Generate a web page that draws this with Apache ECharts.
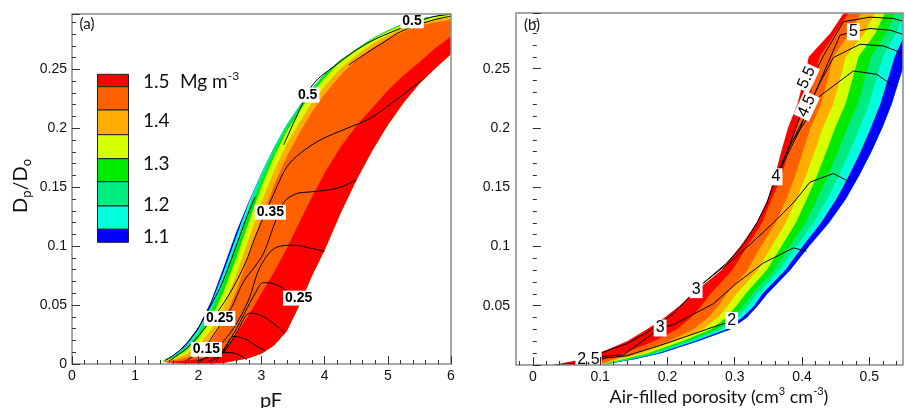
<!DOCTYPE html>
<html>
<head>
<meta charset="utf-8">
<script src="https://cdn.jsdelivr.net/npm/echarts@6/dist/echarts.min.js"></script>
<style>
  html, body { margin: 0; padding: 0; background: #fff; }
  #chart { width: 905px; height: 408px; }
</style>
</head>
<body>
<div id="chart"></div>
<script>
// ---------- Panel (a): Dp/Do against pF, bands of bulk density ----------
const pfGrid = [1.45, 1.6, 1.8, 2.0, 2.2, 2.4, 2.6, 2.8, 3.0, 3.2, 3.4, 3.6, 3.8, 4.0, 4.25, 4.5, 4.75, 5.0, 5.25, 5.5, 5.75, 6.0];

// Band edges (Dp/Do at each pF), from the 1.1 edge (outer, upper-left) to the 1.5 edge (lower-right)
const aEdge0 = [.003, .007, .016, .031, .053, .082, .112, .138, .162, .184, .203, .219, .234, .246, .258, .267, .276, .283, .289, .293, .295, .297];
const aEdge1 = [.0029, .0067, .0151, .0293, .0504, .0783, .108, .1372, .162, .184, .203, .219, .234, .246, .258, .267, .276, .283, .289, .293, .295, .297];
const aEdge2 = [.0028, .0063, .014, .0272, .0471, .0737, .103, .133, .1612, .184, .203, .219, .234, .246, .258, .267, .276, .283, .289, .293, .295, .297];
const aEdge3 = [.0027, .0058, .0127, .0247, .0431, .0682, .097, .127, .1552, .1798, .2003, .2167, .232, .246, .258, .267, .276, .283, .289, .293, .295, .297];
const aEdge4 = [.0026, .0052, .011, .0216, .0382, .0613, .0895, .1205, .1506, .176, .1976, .2144, .23, .2426, .257, .2663, .2754, .2824, .2884, .2925, .2946, .2966];
const aEdge5 = [.0023, .0041, .008, .0157, .0289, .0484, .0755, .1067, .1377, .1642, .1868, .2052, .222, .2358, .2509, .262, .2716, .2792, .2852, .2897, .2922, .2942];
const aEdge6 = [.002, .003, .005, .010, .020, .036, .062, .092, .124, .152, .176, .196, .214, .229, .245, .258, .268, .276, .282, .287, .290, .292];
const aEdge7 = [.002, .002, .003, .004, .007, .013, .025, .042, .060, .078, .098, .120, .142, .162, .184, .202, .217, .232, .245, .256, .268, .278];
const aEdge8 = [.002, .001, 0, 0, 0, .001, .003, .005, .009, .016, .028, .050, .075, .097, .128, .156, .181, .203, .222, .238, .251, .263];

// Contour lines of panel (a), [pF, Dp/Do]
const aLineEdge   = [[1.478, .0031], [1.715, .0121], [1.979, .0291], [2.19, .0489], [2.375, .0686], [2.559, .0941], [2.77, .1252], [2.902, .1421]];
const aLineOuter  = [[3.351, .1859], [3.641, .2198], [3.826, .2381], [4.142, .2523], [4.67, .272], [5.198, .2847], [5.673, .2941], [6.0, .2969]];
const aLineInner  = [[4.38, .2537], [4.67, .2641], [4.987, .2749], [5.198, .2819], [5.673, .2912], [6.0, .2952]];
const aLine035    = [[1.53, .0023], [1.821, .0136], [2.084, .0291], [2.348, .0475], [2.559, .0658], [2.744, .0856], [2.902, .1082], [3.061, .128], [3.245, .1506], [3.404, .1675], [3.615, .1788], [3.931, .1901], [4.354, .2], [4.723, .2085], [5.092, .2226], [5.541, .241]];
const aLine025    = [[1.821, .0031], [2.084, .0136], [2.296, .0291], [2.507, .046], [2.718, .0701], [2.9, .083], [3.034, .0941], [3.2, .118], [3.35, .137], [3.55, .1445], [3.77, .146], [4.1, .148], [4.3, .151], [4.5, .1562]];
const aArch5      = [[2.032, .002], [2.296, .0136], [2.559, .0305], [2.797, .0545], [2.982, .0828], [3.245, .0992], [3.509, .1008], [3.773, .0983], [4.0, .0955]];
const aArch4      = [[2.137, .0014], [2.348, .0093], [2.55, .025], [2.75, .045], [2.9, .06], [3.03, .069], [3.2, .068], [3.4, .062], [3.6, .054]];
const aArch3      = [[2.19, .0011], [2.4, .01], [2.6, .026], [2.823, .0432], [3.0, .041], [3.2, .034], [3.37, .026]];
const aArch2      = [[2.27, .0014], [2.4, .011], [2.56, .0234], [2.75, .021], [2.9, .016], [3.06, .011]];
const aArch1      = [[1.979, .0023], [2.19, .0065], [2.348, .0099], [2.559, .0093], [2.77, .0037]];

// Contour labels of panel (a): [pF, Dp/Do, text]
const aLabels = [[5.383, .2912, '0.5'], [3.731, .2282, '0.5'], [3.14, .1288, '0.35'], [3.588, .0559, '0.25'], [2.338, .0387, '0.25'], [2.127, .0124, '0.15']];

// ---------- Panel (b): Dp/Do against air-filled porosity ----------
const yGridB = [0, .005, .01, .02, .03, .04, .05, .06, .08, .10, .12, .14, .16, .18, .20, .22, .24, .26, .28, .297];

// Band edges (air-filled porosity at each Dp/Do), from the 1.5 edge (left) to the 1.1 edge (right)
const bEdge0 = [.030, .075, .098, .140, .169, .196, .218, .237, .280, .308, .333, .349, .360, .369, .379, .393, .402, .410, .442, .462];
const bEdge1 = [.096, .1058, .1348, .1799, .2136, .235, .2505, .2636, .2963, .3182, .3405, .3548, .370, .3797, .3902, .4084, .4176, .426, .4494, .4688];
const bEdge2 = [.097, .1212, .1532, .2009, .2384, .2607, .276, .2881, .3188, .3386, .3608, .3768, .390, .4012, .4126, .428, .4375, .4463, .4705, .488];
const bEdge3 = [.098, .1289, .1624, .2114, .2521, .2753, .2899, .3025, .3341, .3549, .3758, .3919, .4063, .4186, .4308, .4462, .456, .4651, .4928, .5083];
const bEdge4 = [.098, .1358, .1707, .2219, .2645, .2875, .3027, .3158, .3473, .3692, .3908, .407, .4225, .436, .449, .4644, .4744, .484, .509, .523];
const bEdge5 = [.099, .1412, .1771, .2293, .2732, .2973, .3131, .3258, .3575, .3814, .4047, .4221, .4388, .4534, .4672, .4826, .4929, .5028, .5251, .5377];
const bEdge6 = [.099, .1451, .1817, .2345, .2806, .3046, .3201, .3336, .3667, .3916, .4175, .4372, .455, .4708, .4854, .4994, .5099, .5202, .54, .5513];
const bEdge7 = [.100, .1482, .1854, .2398, .2868, .3113, .329, .3408, .3749, .4008, .4282, .4511, .47, .4869, .5022, .5162, .527, .5376, .5536, .5637];
const bEdge8 = [.100, .152, .190, .245, .293, .318, .334, .348, .382, .410, .440, .465, .485, .503, .519, .533, .544, .555, .566, .575];

// pF contour lines of panel (b), [air-filled porosity, Dp/Do]
const bLine2   = [[.1, .0055], [.1396, .0078], [.1842, .0157], [.2287, .0242], [.2683, .0321], [.2906, .036]];
const bLine25  = [[.0307, 0], [.0554, .001], [.0728, .0024], [.1, .006]];
const bLine3a  = [[.1, .0072], [.1347, .0086], [.1693, .0227], [.1891, .0312], [.2089, .034], [.2683, .0517], [.303, .0692], [.3426, .0861], [.3871, .0988], [.4069, .096]];
const bLine3b  = [[.1, .01], [.1396, .0179], [.1693, .0275], [.2089, .0433], [.2337, .058], [.2535, .0692], [.2881, .0848], [.3228, .1017], [.3574, .12], [.3871, .1369], [.4119, .1543], [.4465, .1616], [.4713, .1543]];
const bLine4   = [[.2535, .0692], [.2881, .0861], [.3129, .1016], [.3327, .1199], [.3475, .1362], [.3599, .1565], [.3748, .1763], [.3871, .1904], [.4069, .2073], [.4267, .227], [.4762, .2481], [.5109, .2453], [.5356, .2355]];
const bLine45  = [[.3599, .1565], [.3822, .182], [.397, .1988], [.4094, .2185], [.4267, .2382], [.4465, .2594], [.4861, .2706], [.5208, .2692], [.5495, .263]];
const bLine5   = [[.3871, .1904], [.4069, .2129], [.4218, .2326], [.4366, .2524], [.4564, .2783], [.4762, .2811], [.501, .2839], [.5307, .2825], [.5495, .2791]];
const bLine55  = [[.3599, .1565], [.3772, .1791], [.3921, .2016], [.402, .2185], [.4119, .2382], [.4317, .2608], [.4614, .2896], [.501, .2935], [.5356, .2924], [.5495, .2901]];

// Contour labels of panel (b): [air-filled porosity, Dp/Do, text]
const bLabels = [[.4762, .2811, '5'], [.4069, .2425, '5.5'], [.4069, .2185, '4.5'], [.3614, .1588, '4'], [.2426, .0636, '3'], [.1891, .0312, '3'], [.2955, .0376, '2'], [.0827, .0044, '2.5']];
const bLabelTilt = { '5.5': 65, '4.5': 65 };

// Axis ticks
const bTicksX = [0, 0.1, 0.2, 0.3, 0.4, 0.5];
const bMinorTicksX = [-0.02, 0.02, 0.04, 0.06, 0.08, 0.12, 0.14, 0.16, 0.18, 0.22, 0.24, 0.26, 0.28, 0.32, 0.34, 0.36, 0.38, 0.42, 0.44, 0.46, 0.48, 0.52, 0.54];

// Bulk density legend (Mg m-3), colours listed from 1.5 down to 1.1
const densityColors = ['#ff0000', '#ff6000', '#ffae00', '#d6ff00', '#00ea00', '#00ec80', '#00ffdc', '#0000ff'];
const densityTicks = ['1.5', '1.4', '1.3', '1.2', '1.1'];

const edgesA = [aEdge0, aEdge1, aEdge2, aEdge3, aEdge4, aEdge5, aEdge6, aEdge7, aEdge8];
const edgesB = [bEdge0, bEdge1, bEdge2, bEdge3, bEdge4, bEdge5, bEdge6, bEdge7, bEdge8];
const bandColorsA = densityColors.slice().reverse();   // outer edge is the light soil
const bandColorsB = densityColors.slice();             // left edge is the dense soil

const chart = echarts.init(document.getElementById('chart'), null, { renderer: 'canvas' });

// Each band is painted from its own edge to the far edge of the whole area;
// the next band is painted over it, so neighbouring bands meet without seams.
function bandRenderer(grid, edges, colors, edgeIsX) {
  const far = edges[edges.length - 1];
  return function (params, api) {
    const i = params.dataIndex;
    const hi = edges[i];
    const pt = (gv, v) => edgeIsX ? api.coord([v, gv]) : api.coord([gv, v]);
    const points = [];
    for (let k = 0; k < grid.length; k++) points.push(pt(grid[k], hi[k]));
    for (let k = grid.length - 1; k >= 0; k--) points.push(pt(grid[k], far[k]));
    return {
      type: 'polygon',
      shape: { points: points },
      style: { fill: colors[i] }
    };
  };
}

function contour(data, xi, yi, smooth) {
  return {
    type: 'line', xAxisIndex: xi, yAxisIndex: yi, data: data,
    symbol: 'none', smooth: smooth, silent: true, z: 4,
    lineStyle: { color: '#000', width: 1 }
  };
}

function labelSeries(list, xi, yi, bold, size, tilt) {
  return {
    type: 'scatter', xAxisIndex: xi, yAxisIndex: yi, z: 6, silent: true,
    symbolSize: 1, itemStyle: { color: 'rgba(0,0,0,0)', opacity: 1 },
    data: list.map(([x, y, t]) => ({
      value: [x, y], name: t,
      label: { rotate: (tilt && tilt[t]) || 0 }
    })),
    label: {
      show: true, position: 'inside', formatter: '{b}',
      color: '#000', backgroundColor: '#fff', padding: [1, 2, 0, 2],
      fontFamily: 'Liberation Sans, Arial, sans-serif',
      fontWeight: bold ? 'bold' : 'normal', fontSize: size
    }
  };
}

const tickFont = { fontFamily: 'Liberation Sans, Arial, sans-serif', fontSize: 14, color: '#111' };
const tickLine = { color: '#333', width: 1 };

function valueAxis(extra) {
  return Object.assign({
    type: 'value', z: 11,
    axisLine: { show: false },
    splitLine: { show: false },
    axisTick: { inside: true, length: 8, lineStyle: tickLine },
    minorTick: { show: true, splitNumber: 5, length: 4, lineStyle: tickLine },
    axisLabel: Object.assign({ margin: 5 }, tickFont)
  }, extra);
}

const titleFont = 'Lato, "Open Sans", sans-serif';

const option = {
  animation: false,
  backgroundColor: '#fff',
  grid: [
    { left: 72, top: 14, width: 379, height: 350, show: true, z: 10, backgroundColor: 'transparent', borderColor: '#8a8a8a', borderWidth: 1.5 },
    { left: 516, top: 13, width: 387, height: 352, show: true, z: 10, backgroundColor: 'transparent', borderColor: '#8a8a8a', borderWidth: 1.5 }
  ],
  xAxis: [
    valueAxis({ gridIndex: 0, position: 'bottom', min: 0, max: 6, interval: 1 }),
    valueAxis({
      gridIndex: 1, position: 'bottom', min: -0.025, max: 0.55,
      minorTick: { show: false },
      axisTick: { inside: true, length: 8, lineStyle: tickLine, customValues: bTicksX },
      axisLabel: Object.assign({ margin: 5, customValues: bTicksX }, tickFont)
    }),
    valueAxis({
      gridIndex: 1, position: 'bottom', min: -0.025, max: 0.55,
      minorTick: { show: false },
      axisTick: { inside: true, length: 4, lineStyle: tickLine, customValues: bMinorTicksX },
      axisLabel: { show: false }
    })
  ],
  yAxis: [
    valueAxis({ gridIndex: 0, position: 'left', min: 0, max: 0.297, interval: 0.05,
      axisLabel: Object.assign({ margin: 5, showMaxLabel: false }, tickFont) }),
    valueAxis({ gridIndex: 1, position: 'left', min: 0, max: 0.297, interval: 0.05,
      axisLabel: Object.assign({ margin: 6, showMinLabel: false, showMaxLabel: false }, tickFont) })
  ],
  graphic: [],
  series: []
};

// Panel (a)
option.series.push({
  type: 'custom', xAxisIndex: 0, yAxisIndex: 0, clip: true, silent: true, z: 2,
  data: bandColorsA.map((c, i) => i),
  renderItem: bandRenderer(pfGrid, edgesA, bandColorsA, false)
});
[aLineEdge, aLineOuter, aLineInner, aLine035, aLine025, aArch5, aArch4, aArch3, aArch2, aArch1]
  .forEach(d => option.series.push(contour(d, 0, 0, 0.35)));
option.series.push(labelSeries(aLabels, 0, 0, true, 14, null));

// Panel (b)
option.series.push({
  type: 'custom', xAxisIndex: 1, yAxisIndex: 1, clip: true, silent: true, z: 2,
  data: bandColorsB.map((c, i) => i),
  renderItem: bandRenderer(yGridB, edgesB, bandColorsB, true)
});
[bLine2, bLine25, bLine3a, bLine3b, bLine4, bLine45, bLine5, bLine55]
  .forEach(d => option.series.push(contour(d, 1, 1, false)));
option.series.push(labelSeries(bLabels, 1, 1, false, 16, bLabelTilt));

// Titles, panel tags and the density legend
const g = option.graphic;
g.push({ type: 'text', x: 87, y: 24, z: 20, style: { text: '(a)', font: '15px ' + titleFont, fill: '#111', align: 'center', verticalAlign: 'middle' } });
g.push({ type: 'text', x: 532, y: 25, z: 20, style: { text: '(b)', font: '15px ' + titleFont, fill: '#111', align: 'center', verticalAlign: 'middle' } });
g.push({ type: 'text', x: 271, y: 401, style: { text: 'pF', font: '20px ' + titleFont, fill: '#111', align: 'center', verticalAlign: 'middle' } });
g.push({
  type: 'text', x: 719, y: 397,
  style: {
    text: '{m|Air-filled porosity (cm}{s|3}{m| cm}{s|-3}{m|)}',
    align: 'center', verticalAlign: 'middle', fill: '#111',
    rich: {
      m: { fontFamily: titleFont, fontSize: 18, lineHeight: 22, verticalAlign: 'middle', fill: '#111' },
      s: { fontFamily: titleFont, fontSize: 11, lineHeight: 11, verticalAlign: 'top', fill: '#111' }
    }
  }
});
g.push({
  type: 'text', x: 21, y: 186, rotation: Math.PI / 2,
  style: {
    text: '{m|D}{s|p}{m|/D}{s|o}',
    align: 'center', verticalAlign: 'middle', fill: '#111',
    rich: {
      m: { fontFamily: titleFont, fontSize: 20, lineHeight: 24, verticalAlign: 'middle', fill: '#111' },
      s: { fontFamily: titleFont, fontSize: 13, lineHeight: 13, verticalAlign: 'bottom', fill: '#111' }
    }
  }
});

// Colour bar of the legend
const legendStops = [74.3, 86.7, 110, 134.7, 158.7, 181.7, 206, 229.3, 242.3];
densityColors.forEach((c, i) => {
  g.push({
    type: 'rect',
    shape: { x: 97.5, y: legendStops[i], width: 31, height: legendStops[i + 1] - legendStops[i] },
    style: { fill: c, stroke: '#222', lineWidth: 1 }
  });
});
const legendLabelY = [82, 121, 164, 205, 237];
densityTicks.forEach((t, i) => {
  g.push({ type: 'text', x: 143, y: legendLabelY[i], style: { text: t, font: '19px ' + titleFont, fill: '#111', align: 'left', verticalAlign: 'middle' } });
});
g.push({
  type: 'text', x: 180, y: 82,
  style: {
    text: '{m|Mg m}{s|-3}', align: 'left', verticalAlign: 'middle', fill: '#111',
    rich: {
      m: { fontFamily: titleFont, fontSize: 19, lineHeight: 24, verticalAlign: 'middle', fill: '#111' },
      s: { fontFamily: titleFont, fontSize: 12, lineHeight: 12, verticalAlign: 'top', fill: '#111' }
    }
  }
});

chart.setOption(option);
</script>
</body>
</html>
